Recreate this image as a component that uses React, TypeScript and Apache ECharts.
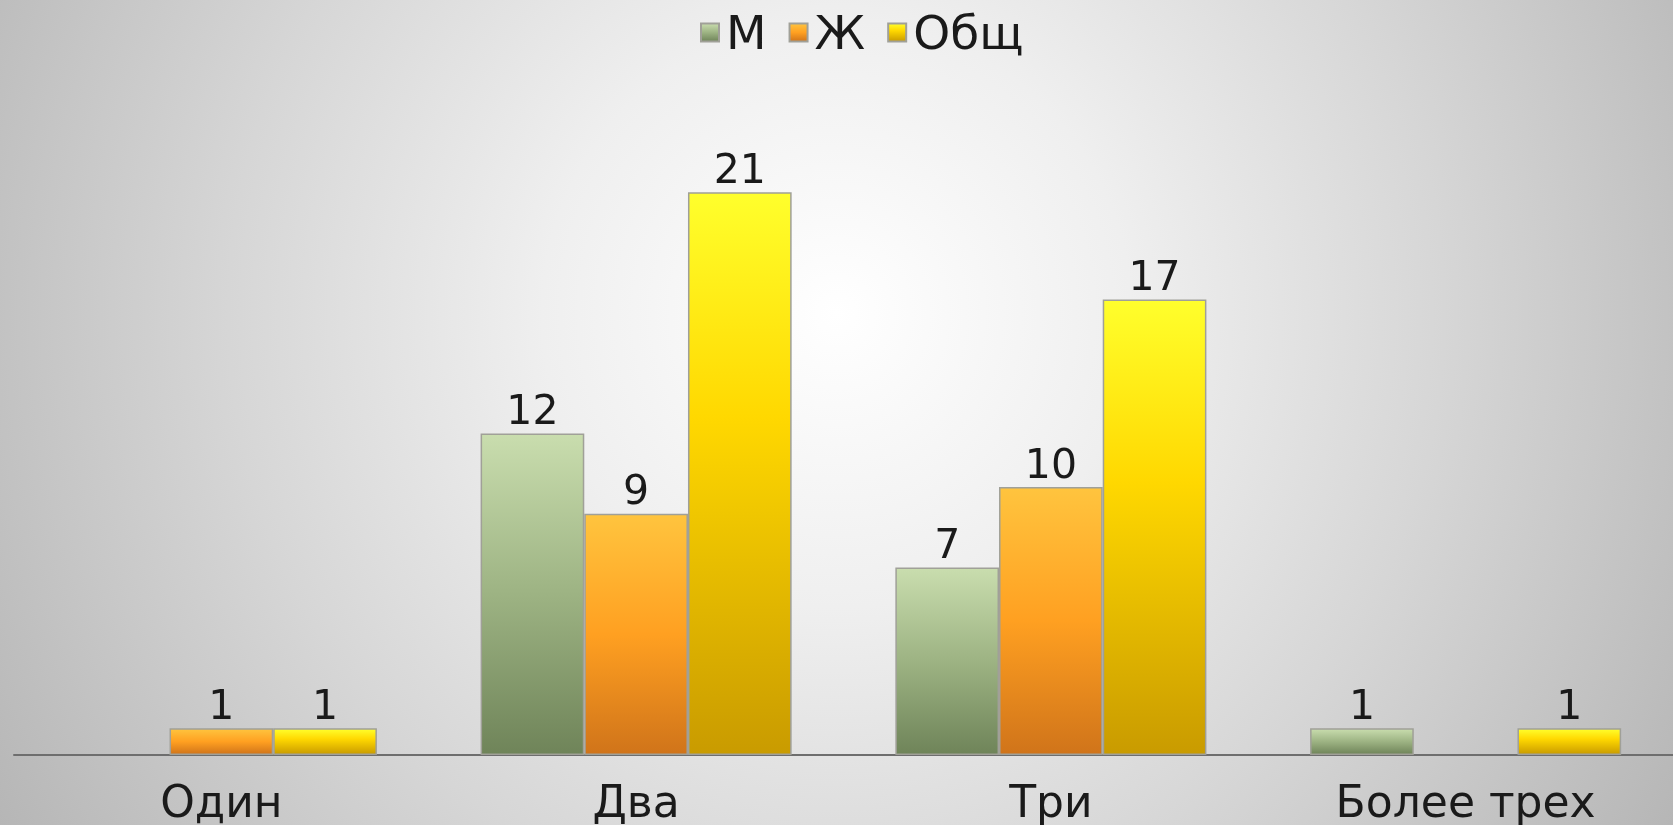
import React, { useEffect, useRef } from "react";
import * as echarts from "echarts";

const categories = ["Один", "Два", "Три", "Более трех"];
const seriesNames = ["М", "Ж", "Общ"];
const valuesM: (number | null)[] = [null, 12, 7, 1];
const valuesF: (number | null)[] = [1, 9, 10, null];
const valuesTotal: (number | null)[] = [1, 21, 17, 1];

const FONT = "'DejaVu Sans', Verdana, sans-serif";

function grad(stops: [number, string][]) {
  return new echarts.graphic.LinearGradient(
    0,
    0,
    0,
    1,
    stops.map(([offset, color]) => ({ offset, color }))
  );
}

const greenGrad = () =>
  grad([
    [0, "#c9ddae"],
    [0.5, "#9db383"],
    [1, "#6f8459"],
  ]);
const orangeGrad = () =>
  grad([
    [0, "#ffc43e"],
    [0.5, "#ffa021"],
    [1, "#d0741a"],
  ]);
const yellowGrad = () =>
  grad([
    [0, "#ffff2c"],
    [0.4, "#ffd800"],
    [1, "#c99b00"],
  ]);

export default function App() {
  const ref = useRef<HTMLDivElement>(null);

  useEffect(() => {
    if (!ref.current) return;
    const chart = echarts.init(ref.current, undefined, { renderer: "svg" });
    const label = {
      show: true,
      position: "top",
      distance: 3,
      fontFamily: FONT,
      fontSize: 41,
      color: "#1a1a1a",
    };
    const mk = (name: string, data: (number | null)[], color: any) => ({
      name,
      type: "bar",
      data,
      barGap: "0%",
      barCategoryGap: "25%",
      itemStyle: {
        color,
        borderColor: "#a0a098",
        borderWidth: 1.5,
      },
      label,
    });
    chart.setOption({
      animation: false,
      backgroundColor: "transparent",
      legend: {
        top: 4,
        left: 695,
        itemWidth: 18,
        itemHeight: 18,
        itemGap: 22,
        icon: "rect",
        textStyle: {
          fontFamily: FONT,
          fontSize: 47,
          color: "#1a1a1a",
          padding: [0, 0, 0, 2],
        },
        data: seriesNames,
      },
      grid: { left: 14, right: -5, top: 85, bottom: 70, containLabel: false },
      xAxis: {
        type: "category",
        data: categories,
        axisLine: { show: true, lineStyle: { color: "#6e6e6e", width: 2 } },
        axisTick: { show: false },
        axisLabel: {
          fontFamily: FONT,
          fontSize: 44,
          color: "#1a1a1a",
          margin: 24,
          interval: 0,
        },
      },
      yAxis: {
        type: "value",
        min: 0,
        max: 25,
        show: false,
        splitLine: { show: false },
      },
      series: [
        mk(seriesNames[0], valuesM, greenGrad()),
        mk(seriesNames[1], valuesF, orangeGrad()),
        mk(seriesNames[2], valuesTotal, yellowGrad()),
      ],
    });
    return () => chart.dispose();
  }, []);

  return (
    <div
      style={{
        position: "fixed",
        left: 0,
        top: 0,
        width: 1673,
        height: 825,
        background:
          "radial-gradient(circle at 50% 38%, #ffffff 0%, #efefef 30%, #d6d6d6 62%, #b6b6b6 100%)",
      }}
    >
      <div ref={ref} style={{ width: 1673, height: 825 }} />
    </div>
  );
}
